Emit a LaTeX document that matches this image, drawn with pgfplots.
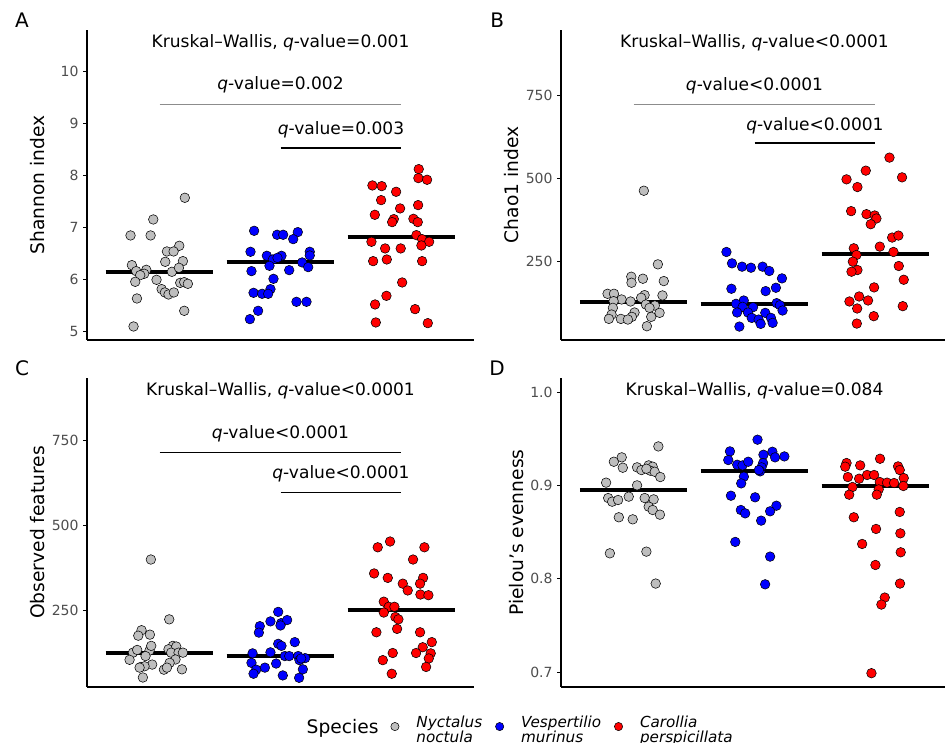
\documentclass[border=0pt]{standalone}
\usepackage{fontspec}
\setmainfont{DejaVu Sans}
\usepackage{pgfplots}
\pgfplotsset{compat=1.18}
\definecolor{ngray}{HTML}{BEBEBE}
\definecolor{tickgray}{HTML}{4D4D4D}
\definecolor{brgray}{HTML}{8C8C8C}

\pgfplotsset{
  panel/.style={
    scale only axis, width=290.25pt,
    xmin=0.4, xmax=3.6, xtick=\empty,
    axis x line*=bottom, axis y line*=left,
    axis line style={-, line width=0.8pt},
    ytick pos=left, tick align=outside, major tick length=2.8pt,
    every tick/.style={black, line width=0.6pt},
    /pgf/number format/assume math mode=true,
    yticklabel style={text=tickgray, font=\fontsize{10.5}{12}\selectfont},
    ylabel style={font=\fontsize{14}{16}\selectfont, at={(axis description cs:-0.127,0.5)}, anchor=center},
    clip=false,
  },
  grp/.style={only marks, mark=*, mark size=3.6pt, mark options={draw=black, line width=0.4pt, fill=#1}},
  med/.style={black, line width=3pt},
}
\newcommand{\ttl}{\fontsize{12.8}{15}\selectfont}
\newcommand{\lett}{\fontsize{15}{17}\selectfont}

\begin{document}
\begin{tikzpicture}
\path[use as bounding box] (0,0) rectangle (708.75pt,556.5pt);

% ---------- A : Shannon
\begin{axis}[panel, at={(65.25pt,301.5pt)}, anchor=south west, height=232.5pt,
  ymin=4.83, ymax=10.79, ytick={5,6,7,8,9,10}, ylabel={Shannon index}]
\addplot[med] coordinates {(0.555,6.128)(1.445,6.128)};
\addplot[med] coordinates {(1.555,6.327)(2.445,6.327)};
\addplot[med] coordinates {(2.555,6.808)(3.445,6.808)};
\addplot[grp=ngray] coordinates {
(1.209,7.564)(0.948,7.147)(0.760,6.840)(0.926,6.840)(1.163,6.641)(1.061,6.532)(1.116,6.532)(1.047,6.333)(1.193,6.346)(0.771,6.269)(0.807,6.154)(0.890,6.179)(0.873,6.103)(0.840,6.077)(1.102,6.141)(1.160,6.218)(0.799,5.949)(0.975,5.987)(1.171,5.929)(1.204,5.942)(1.234,5.910)(1.017,5.808)(1.044,5.744)(1.074,5.705)(1.118,5.744)(0.813,5.628)(1.204,5.391)(0.785,5.090)};
\addplot[grp=blue] coordinates {
(1.782,6.929)(1.972,6.853)(2.022,6.853)(2.143,6.904)(2.105,6.769)(1.752,6.526)(2.242,6.526)(2.242,6.455)(1.887,6.449)(1.937,6.378)(2.008,6.449)(1.975,6.410)(1.909,6.256)(2.179,6.321)(2.229,6.231)(1.760,6.154)(2.072,6.173)(1.942,6.006)(1.917,5.808)(1.777,5.737)(1.848,5.718)(1.898,5.718)(1.815,5.391)(2.132,5.564)(2.215,5.564)(1.747,5.231)};
\addplot[grp=red] coordinates {
(3.143,8.115)(3.140,7.942)(3.212,7.910)(2.760,7.801)(2.837,7.788)(2.956,7.679)(2.832,7.519)(3.138,7.423)(2.989,7.359)(2.780,7.237)(2.937,7.154)(2.923,7.096)(3.099,7.160)(3.135,7.096)(3.124,6.846)(3.171,6.769)(3.229,6.718)(3.165,6.647)(2.752,6.718)(2.865,6.590)(2.994,6.590)(2.766,6.346)(2.879,6.378)(3.171,6.346)(3.006,5.936)(2.876,5.679)(2.782,5.513)(3.113,5.423)(2.788,5.167)(3.218,5.154)};
\addplot[brgray, line width=0.5pt] coordinates {(1,9.365)(3,9.365)};
\addplot[black, line width=0.9pt] coordinates {(2,8.52)(3,8.52)};
\node[font=\ttl] at (axis cs:2,10.54) {Kruskal–Wallis, \textit{q}-value=0.001};
\node[font=\ttl] at (axis cs:2,9.73) {\textit{q}-value=0.002};
\node[font=\ttl] at (axis cs:2.5,8.88) {\textit{q}-value=0.003};
\node[font=\lett] at (axis description cs:-0.168,1.032) {A};
\end{axis}

% ---------- B : Chao1
\begin{axis}[panel, at={(420.75pt,301.5pt)}, anchor=south west, height=232.5pt,
  ymin=12, ymax=946, ytick={250,500,750}, ylabel={Chao1 index}]
\addplot[med] coordinates {(0.555,127)(1.445,127)};
\addplot[med] coordinates {(1.555,121)(2.445,121)};
\addplot[med] coordinates {(2.555,272)(3.445,272)};
\addplot[grp=ngray] coordinates {
(1.085,461.7)(1.201,239.9)(0.981,202.6)(1.077,196.6)(0.983,184.5)(1.250,189.5)(0.785,151.2)(0.838,151.2)(1.091,147.2)(1.239,146.2)(1.063,139.1)(0.901,134.1)(0.975,128.0)(0.835,129.0)(1.102,118.9)(1.176,115.9)(0.829,108.9)(1.132,108.9)(1.215,93.8)(1.008,94.8)(0.818,88.7)(0.986,81.7)(1.146,81.7)(0.796,75.6)(0.895,75.6)(0.953,73.6)(1.110,53.5)};
\addplot[grp=blue] coordinates {
(1.768,277.2)(1.814,242.9)(1.897,232.9)(1.971,229.8)(2.067,232.9)(2.122,219.8)(2.227,197.6)(1.809,166.4)(2.092,159.3)(2.177,169.4)(1.911,131.0)(1.847,121.0)(1.902,111.9)(1.988,110.9)(2.183,123.0)(2.210,116.9)(2.232,100.8)(1.856,94.8)(1.946,94.8)(2.089,93.8)(1.977,78.6)(2.034,73.6)(2.136,78.6)(2.051,60.5)(2.150,63.5)(1.875,52.4)};
\addplot[grp=red] coordinates {
(3.116,561.5)(2.920,522.2)(3.220,502.0)(2.761,496.0)(2.851,472.8)(2.799,400.2)(2.926,391.1)(2.994,387.1)(3.008,378.0)(2.961,360.9)(3.138,320.6)(3.190,326.6)(3.036,293.3)(2.821,288.3)(3.149,277.2)(2.843,268.1)(2.813,248.0)(3.193,234.9)(2.851,222.8)(2.802,217.7)(3.234,193.5)(2.989,170.4)(2.865,143.1)(2.939,131.0)(2.785,128.0)(3.226,113.9)(2.849,106.9)(2.986,83.7)(2.846,61.5)};
\addplot[brgray, line width=0.5pt] coordinates {(1,722.9)(3,722.9)};
\addplot[black, line width=0.9pt] coordinates {(2,605.4)(3,605.4)};
\node[font=\ttl] at (axis cs:2,906.6) {Kruskal–Wallis, \textit{q}-value<0.0001};
\node[font=\ttl] at (axis cs:2,777) {\textit{q}-value<0.0001};
\node[font=\ttl] at (axis cs:2.5,656.6) {\textit{q}-value<0.0001};
\node[font=\lett] at (axis description cs:-0.165,1.032) {B};
\end{axis}

% ---------- C : Observed features
\begin{axis}[panel, at={(65.25pt,41.25pt)}, anchor=south west, height=231.75pt,
  ymin=26, ymax=935, ytick={250,500,750}, ylabel={Observed features},
  legend columns=3,
  legend style={draw=none, fill=none, at={(axis description cs:0.774,-0.128)}, anchor=west,
    font=\itshape\fontsize{11.4}{9.2}\selectfont, cells={anchor=west},
    /tikz/every odd column/.append style={column sep=11pt},
    /tikz/every even column/.append style={column sep=8pt}}]
\addlegendimage{only marks, mark=*, mark size=3.1pt, mark options={draw=black, line width=0.4pt, fill=ngray}}
\addlegendentry{\begin{tabular}{@{}l@{}}Nyctalus\\noctula\end{tabular}}
\addlegendimage{only marks, mark=*, mark size=3.1pt, mark options={draw=black, line width=0.4pt, fill=blue}}
\addlegendentry{\begin{tabular}{@{}l@{}}Vespertilio\\murinus\end{tabular}}
\addlegendimage{only marks, mark=*, mark size=3.1pt, mark options={draw=black, line width=0.4pt, fill=red}}
\addlegendentry{\begin{tabular}{@{}l@{}}Carollia\\perspicillata\end{tabular}}
\addplot[med, forget plot] coordinates {(0.555,125)(1.445,125)};
\addplot[med, forget plot] coordinates {(1.555,117)(2.445,117)};
\addplot[med, forget plot] coordinates {(2.555,252)(3.445,252)};
\addplot[grp=ngray, forget plot] coordinates {
(0.928,401)(1.080,225)(0.851,193)(0.824,177)(0.920,180)(0.780,127)(0.815,135)(0.917,133)(0.931,147)(0.884,117)(0.752,106)(1.110,147)(1.074,137)(1.138,145)(1.096,127)(1.157,127)(1.193,127)(1.132,107)(1.083,97)(0.939,92)(0.846,85)(0.876,87)(0.835,83)(1.036,77)(1.061,83)(1.185,78)(0.862,54)};
\addplot[grp=blue, forget plot] coordinates {
(1.981,247)(1.917,219)(2.006,214)(2.055,223)(2.000,207)(1.829,205)(1.821,186)(1.981,153)(2.008,147)(2.118,158)(1.769,125)(1.917,128)(2.036,117)(2.072,117)(2.146,117)(2.204,111)(2.157,105)(2.171,110)(1.760,97)(1.964,95)(1.871,83)(1.799,77)(1.777,65)(2.185,78)(2.019,60)(2.154,53)};
\addplot[grp=red, forget plot] coordinates {
(2.906,454)(2.804,437)(3.190,437)(3.096,401)(2.774,360)(2.887,347)(3.179,347)(3.011,330)(3.154,330)(3.052,310)(3.157,298)(3.223,296)(2.854,277)(2.895,262)(2.942,262)(2.854,245)(2.950,232)(2.975,225)(2.964,197)(2.793,187)(3.154,187)(3.251,158)(3.176,143)(2.928,126)(3.121,126)(3.242,125)(2.846,105)(3.226,110)(3.204,85)(2.920,65)};
\addplot[black, line width=0.6pt, forget plot] coordinates {(1,717)(3,717)};
\addplot[black, line width=0.9pt, forget plot] coordinates {(2,598)(3,598)};
\node[font=\ttl] at (axis cs:2,898.8) {Kruskal–Wallis, \textit{q}-value<0.0001};
\node[font=\ttl] at (axis cs:2,771) {\textit{q}-value<0.0001};
\node[font=\ttl] at (axis cs:2.5,652) {\textit{q}-value<0.0001};
\node[font=\lett] at (axis description cs:-0.168,1.032) {C};
\end{axis}

% ---------- D : Pielou
\begin{axis}[panel, at={(420.75pt,41.25pt)}, anchor=south west, height=231.75pt,
  ymin=0.684, ymax=1.015, ytick={0.7,0.8,0.9,1.0}, yticklabels={0.7,0.8,0.9,1.0},
  ylabel={Pielou’s evenness},
  ylabel style={at={(axis description cs:-0.114,0.5)}}]
\addplot[med] coordinates {(0.555,0.8946)(1.445,0.8946)};
\addplot[med] coordinates {(1.555,0.915)(2.445,0.915)};
\addplot[med] coordinates {(2.555,0.899)(3.445,0.899)};
\addplot[grp=ngray] coordinates {
(1.205,0.9417)(0.837,0.9253)(0.902,0.9300)(0.911,0.9189)(1.029,0.9193)(1.065,0.9164)(1.125,0.9214)(1.158,0.9200)(1.139,0.9157)(1.174,0.9146)(1.106,0.9178)(1.221,0.9089)(0.773,0.9029)(1.029,0.9000)(0.960,0.8879)(0.790,0.8864)(0.823,0.8825)(0.872,0.8843)(1.092,0.8864)(1.166,0.8850)(1.125,0.8772)(1.158,0.8736)(1.218,0.8686)(0.878,0.8658)(0.993,0.8636)(0.804,0.8272)(1.106,0.8290)(1.183,0.7948)};
\addplot[grp=blue] coordinates {
(2.025,0.9489)(1.797,0.9364)(2.074,0.9328)(2.148,0.9360)(2.170,0.9300)(2.247,0.9310)(1.783,0.9271)(1.857,0.9221)(1.901,0.9214)(1.948,0.9253)(2.071,0.9239)(2.058,0.9193)(2.047,0.9150)(2.036,0.9164)(1.912,0.9093)(1.890,0.9021)(1.805,0.8889)(2.005,0.8872)(2.181,0.8782)(2.129,0.8722)(1.887,0.8736)(1.923,0.8700)(2.055,0.8622)(1.841,0.8394)(2.129,0.8237)(2.088,0.7940)};
\addplot[grp=red] coordinates {
(3.038,0.9285)(2.761,0.9239)(2.750,0.9200)(2.874,0.9214)(3.187,0.9203)(3.201,0.9164)(2.931,0.9111)(2.989,0.9111)(2.772,0.9089)(2.865,0.9071)(3.234,0.9078)(3.036,0.9036)(3.096,0.9029)(3.154,0.9025)(3.231,0.8993)(2.810,0.8982)(3.027,0.8957)(2.783,0.8900)(3.011,0.8900)(2.821,0.8658)(3.201,0.8715)(3.005,0.8533)(2.890,0.8372)(3.206,0.8486)(3.209,0.8283)(3.000,0.8147)(3.203,0.7948)(3.077,0.7798)(3.049,0.7723)(2.967,0.6988)};
\node[font=\ttl] at (axis cs:2,1.001) {Kruskal–Wallis, \textit{q}-value=0.084};
\node[font=\lett] at (axis description cs:-0.165,1.032) {D};
\end{axis}

\node[anchor=west, font=\fontsize{14}{16}\selectfont] at (226.5pt,10.5pt) {Species};
\end{tikzpicture}
\end{document}
